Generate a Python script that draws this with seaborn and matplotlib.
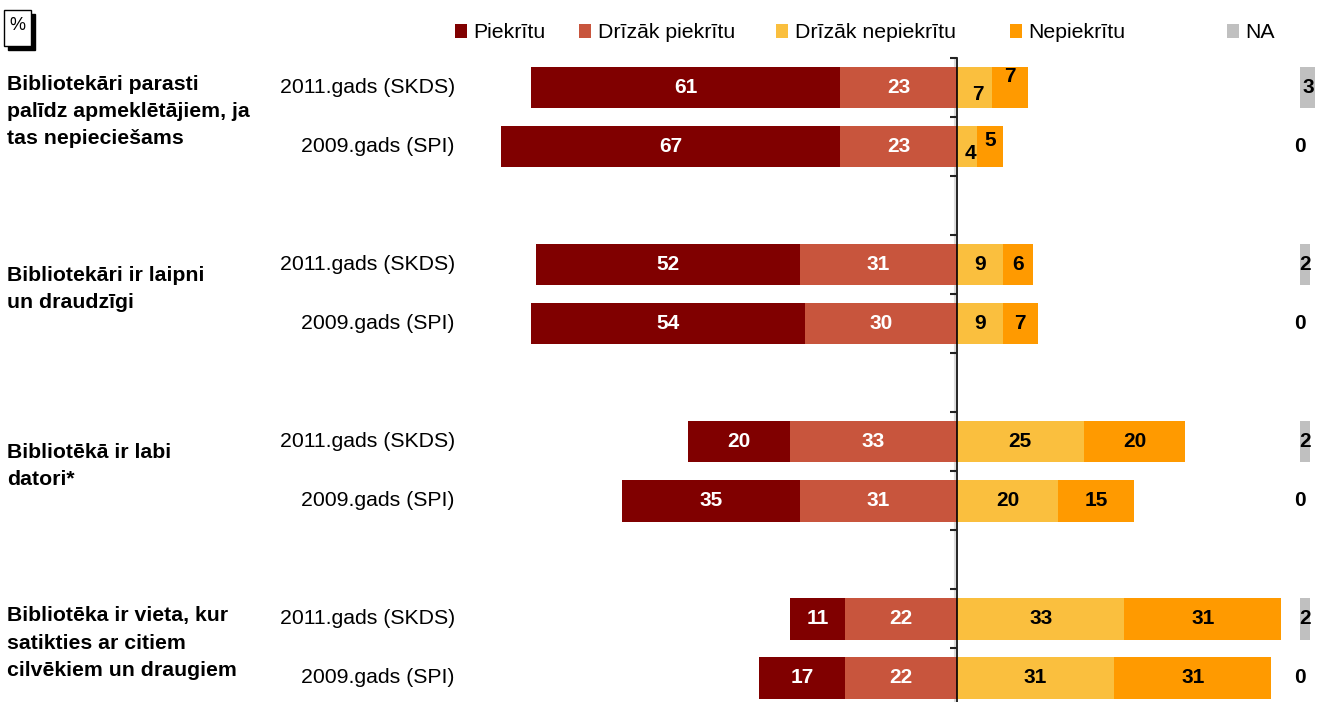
import matplotlib
matplotlib.use("Agg")
import matplotlib.pyplot as plt
from matplotlib.patches import Patch, Rectangle
import numpy as np
import pandas as pd
import seaborn as sns

statements = [
    "Bibliotekāri parasti\npalīdz apmeklētājiem, ja\ntas nepieciešams",
    "Bibliotekāri ir laipni\nun draudzīgi",
    "Bibliotēkā ir labi\ndatori*",
    "Bibliotēka ir vieta, kur\nsatikties ar citiem\ncilvēkiem un draugiem",
]
years = ["2011.gads (SKDS)", "2009.gads (SPI)"]

# one value per bar, statement by statement, 2011 first then 2009
piekritu = [61, 67, 52, 54, 20, 35, 11, 17]
drizak_piekritu = [23, 23, 31, 30, 33, 31, 22, 22]
drizak_nepiekritu = [7, 4, 9, 9, 25, 20, 33, 31]
nepiekritu = [7, 5, 6, 7, 20, 15, 31, 31]
na = [3, 0, 2, 0, 2, 0, 2, 0]

series_names = ["Piekrītu", "Drīzāk piekrītu", "Drīzāk nepiekrītu", "Nepiekrītu", "NA"]
colors = ["#800000", "#C8553D", "#FABF3E", "#FF9A00", "#C0C0C0"]

# small vertical nudges for crowded labels (first statement only)
nudge_yel = [0.11, 0.12, 0, 0, 0, 0, 0, 0]
nudge_ora = [-0.18, -0.10, 0, 0, 0, 0, 0, 0]

NA_START = 67.7

# build rows with empty gap rows between statements
row_ids, order = [], []
for i in range(len(statements)):
    for j in range(len(years)):
        row_ids.append(f"s{i}_{j}")
    order += [f"s{i}_0", f"s{i}_1"]
    if i < len(statements) - 1:
        order.append(f"gap{i}")
pos = {r: order.index(r) for r in row_ids}

df = pd.DataFrame({
    "row": row_ids,
    "p": piekritu,
    "dp": drizak_piekritu,
    "dn": drizak_nepiekritu,
    "n": nepiekritu,
    "na": na,
})
df["left_outer"] = -(df["p"] + df["dp"])
df["left_inner"] = -df["dp"]
df["right_outer"] = df["dn"] + df["n"]
df["right_inner"] = df["dn"]

W, H = 1327, 702
fig = plt.figure(figsize=(W / 100, H / 100), dpi=100)
ax = fig.add_axes([0, 0, 1, 1 - 58 / H])

plt.rcParams["font.family"] = ["Liberation Sans", "DejaVu Sans"]

bw = 0.7
kw = dict(order=order, width=bw, orient="y", ax=ax, saturation=1, linewidth=0)
sns.barplot(data=df, y="row", x="left_outer", color=colors[0], **kw)
sns.barplot(data=df, y="row", x="left_inner", color=colors[1], **kw)
sns.barplot(data=df, y="row", x="right_outer", color=colors[3], **kw)
sns.barplot(data=df, y="row", x="right_inner", color=colors[2], **kw)

ys = np.array([pos[r] for r in row_ids])
ax.barh(ys, df["na"], left=NA_START, height=bw, color=colors[4], linewidth=0)

px = 5.07
ax.set_xlabel("")
ax.set_ylabel("")
ax.set_xticks([])
ax.set_yticks(np.arange(-0.5, len(order) + 0.5, 1))
ax.set_yticklabels([])
ax.set_xlim(-957 / px, (W - 957) / px)
ax.set_ylim((H - 88) / 59, -0.5)
for s in ["top", "right", "bottom"]:
    ax.spines[s].set_visible(False)
ax.spines["left"].set_position(("data", 0))
ax.spines["left"].set_linewidth(1.2)
ax.set_axisbelow(False)
ax.yaxis.set_zorder(6)
ax.spines["left"].set_zorder(6)
ax.tick_params(axis="y", direction="out", length=5, width=1.5, color="#222222")
ax.axvline(-0.35, color="#DDDDDD", lw=1.5, zorder=0.5)

fs = 15.3
bold = dict(fontsize=15, fontweight="bold", ha="center", va="center")
for k, r in enumerate(row_ids):
    y = pos[r]
    p, dp, dn, n, v = piekritu[k], drizak_piekritu[k], drizak_nepiekritu[k], nepiekritu[k], na[k]
    ax.text(-dp - p / 2, y, str(p), color="white", **bold)
    ax.text(-dp / 2, y, str(dp), color="white", **bold)
    ax.text(dn / 2 + (0.6 if nudge_yel[k] else 0), y + nudge_yel[k], str(dn), color="black", **bold)
    ax.text(dn + n / 2, y + nudge_ora[k], str(n), color="black", **bold)
    ax.text(NA_START + v / 2, y, str(v), color="black", **bold)
    ax.text((455 - 957) / px, y, years[k % 2], fontsize=fs, ha="right", va="center")

for i, label in enumerate(statements):
    yc = pos[f"s{i}_0"] + 0.5 - 0.09
    ax.text(-(957 - 7) / px, yc, label, fontsize=fs, fontweight="bold",
            ha="left", va="center", linespacing=1.55)

# legend entries placed individually
leg_x = [455, 579, 776, 1010, 1227]
for name, c, lx in zip(series_names, colors, leg_x):
    fig.legend(handles=[Patch(facecolor=c, edgecolor="none", label=name)],
               loc="center left", bbox_to_anchor=(lx / W, 1 - 33 / H),
               frameon=False, fontsize=fs, handlelength=0.58, handleheight=0.58,
               handletextpad=0.3, borderpad=0, borderaxespad=0)

# "%" box with shadow
fig.patches.append(Rectangle((8 / W, 1 - 50 / H), 27 / W, 36 / H, transform=fig.transFigure,
                             fc="black", ec="black", lw=1, zorder=1))
fig.patches.append(Rectangle((4 / W, 1 - 46 / H), 27 / W, 36 / H, transform=fig.transFigure,
                             fc="white", ec="black", lw=1, zorder=2))
fig.text(17 / W, 1 - 25 / H, "%", fontsize=13, ha="center", va="center", color="black", zorder=3)

fig.savefig("out.png", dpi=100)
